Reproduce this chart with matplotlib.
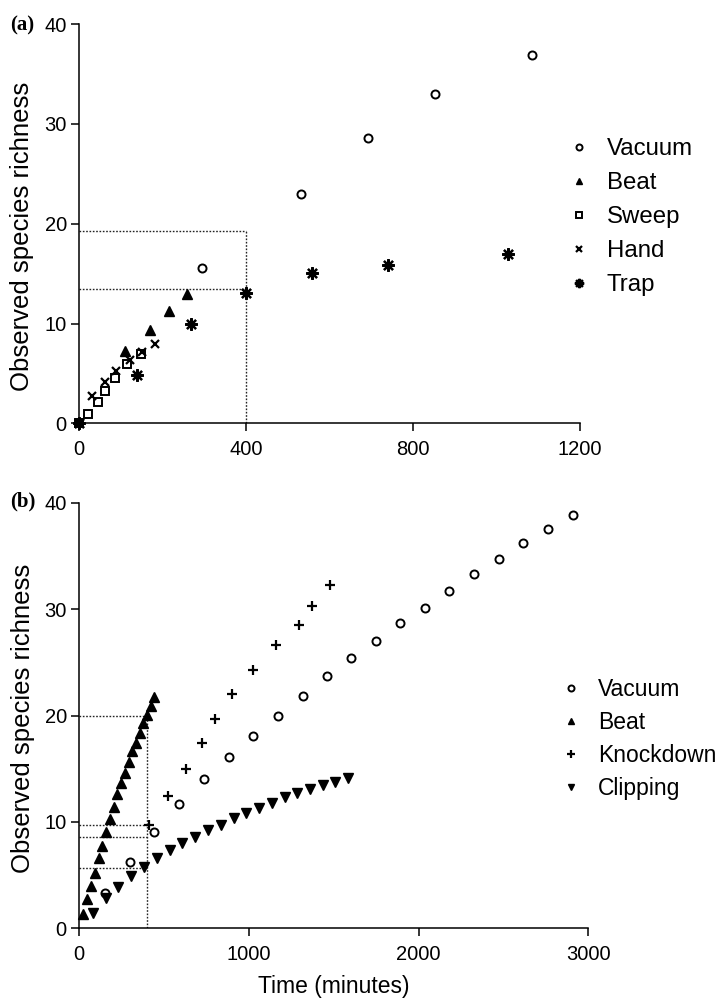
import matplotlib
matplotlib.use("Agg")
import matplotlib.pyplot as plt

plt.rcParams["font.family"] = ["Liberation Sans", "DejaVu Sans"]

# ---- panel (a) data: time (minutes) vs observed species richness ----
vac_a_x = [294, 532, 693, 852, 1085]
vac_a_y = [15.6, 23.0, 28.6, 33.0, 36.9]
beat_a_x = [109, 169, 215, 258]
beat_a_y = [7.25, 9.35, 11.25, 13.0]
sweep_a_x = [0, 22, 45, 61, 85, 115, 147]
sweep_a_y = [0, 0.93, 2.17, 3.24, 4.57, 5.94, 6.94]
hand_a_x = [0, 30, 61, 89, 121, 151, 181]
hand_a_y = [0, 2.74, 4.17, 5.27, 6.34, 7.18, 7.95]
trap_a_x = [0, 139, 268, 399, 557, 741, 1027]
trap_a_y = [0, 4.85, 9.95, 13.1, 15.1, 15.9, 17.0]
guides_a_y = [19.27, 13.46]

# ---- panel (b) data ----
vac_b_x = [151, 296, 441, 588, 735, 880, 1025, 1171, 1316, 1459,
           1602, 1747, 1890, 2035, 2180, 2325, 2475, 2618, 2765, 2912]
vac_b_y = [3.29, 6.27, 9.09, 11.69, 14.01, 16.14, 18.03, 20.0, 21.85, 23.73,
           25.36, 27.02, 28.68, 30.13, 31.66, 33.26, 34.73, 36.21, 37.55, 38.87]
beat_b_x = [23, 47, 69, 90, 114, 135, 157, 178, 202, 224,
            245, 267, 290, 312, 333, 355, 376, 398, 422, 443]
beat_b_y = [1.32, 2.76, 4.01, 5.24, 6.65, 7.77, 9.09, 10.25, 11.41, 12.66,
            13.70, 14.61, 15.61, 16.68, 17.46, 18.31, 19.34, 20.03, 20.88, 21.72]
knock_b_x = [410, 524, 627, 724, 802, 900, 1022, 1159, 1294, 1373, 1480]
knock_b_y = [9.72, 12.48, 15.02, 17.43, 19.66, 22.04, 24.29, 26.58, 28.46, 30.31, 32.29]
clip_b_x = [78, 157, 229, 304, 380, 455, 533, 606, 684, 759, 833,
            910, 984, 1061, 1137, 1210, 1284, 1361, 1435, 1510, 1582]
clip_b_y = [1.47, 2.82, 3.92, 4.92, 5.80, 6.58, 7.37, 7.99, 8.56, 9.25, 9.72,
            10.34, 10.88, 11.35, 11.82, 12.32, 12.76, 13.07, 13.45, 13.76, 14.17]
guides_b_y = [20.0, 9.75, 8.55, 5.7]
guide_x = 400

TICK_FS = 14.5
LABEL_FS = 16.5
YLABEL_FS = 18.5


def style_axis(ax, xmax, xticks):
    ax.set_xlim(0, xmax)
    ax.set_ylim(0, 40)
    ax.set_xticks(xticks)
    ax.set_yticks([0, 10, 20, 30, 40])
    for side in ["top", "right"]:
        ax.spines[side].set_visible(False)
    for side in ["left", "bottom"]:
        ax.spines[side].set_linewidth(1.1)
    ax.tick_params(axis="both", direction="out", length=6, width=1.1,
                   labelsize=TICK_FS)
    ax.tick_params(axis="x", pad=6)
    ax.tick_params(axis="y", pad=3)


def guides(ax, ys):
    top = max(ys)
    ax.plot([guide_x, guide_x], [0, top], ls=(0, (1.2, 1.2)), lw=1.0, color="#222222")
    for y in ys:
        ax.plot([0, guide_x], [y, y], ls=(0, (1.2, 1.2)), lw=1.0, color="#222222")


def pts(ax, x, y, label, **kw):
    base = dict(ls="none", color="black", clip_on=False, zorder=3)
    base.update(kw)
    ax.plot(x, y, label=label, **base)


fig = plt.figure(figsize=(7.19, 9.98), dpi=100)
ax_a = fig.add_axes([0.1103, 0.5758, 0.6964, 0.4001])
ax_b = fig.add_axes([0.1103, 0.0698, 0.7079, 0.4265])

# panel (a)
guides(ax_a, guides_a_y)
open_kw = dict(mfc="white", mec="black", mew=1.4)
pts(ax_a, vac_a_x, vac_a_y, "Vacuum", marker="o", ms=5.8, **open_kw)
pts(ax_a, beat_a_x, beat_a_y, "Beat", marker="^", ms=6.5)
pts(ax_a, sweep_a_x, sweep_a_y, "Sweep", marker="s", ms=5.8, **open_kw)
pts(ax_a, hand_a_x, hand_a_y, "Hand", marker="x", ms=6, mew=1.6)
pts(ax_a, trap_a_x, trap_a_y, "Trap", marker=(8, 2, 0), ms=9, mew=1.6)
style_axis(ax_a, 1200, [0, 400, 800, 1200])
ax_a.set_ylabel("Observed species richness", fontsize=YLABEL_FS)
ax_a.yaxis.set_label_coords(-0.09, 0.469)

# panel (b)
guides(ax_b, guides_b_y)
pts(ax_b, vac_b_x, vac_b_y, "Vacuum", marker="o", ms=5.8, **open_kw)
pts(ax_b, beat_b_x, beat_b_y, "Beat", marker="^", ms=6.5)
pts(ax_b, knock_b_x, knock_b_y, "Knockdown", marker="+", ms=7.5, mew=1.6)
pts(ax_b, clip_b_x, clip_b_y, "Clipping", marker="v", ms=6.5)
style_axis(ax_b, 3000, [0, 1000, 2000, 3000])
ax_b.set_ylabel("Observed species richness", fontsize=YLABEL_FS)
ax_b.yaxis.set_label_coords(-0.087, 0.494)
ax_b.set_xlabel("Time (minutes)", fontsize=LABEL_FS)
ax_b.xaxis.set_label_coords(0.5, -0.11)

leg_kw = dict(frameon=False, loc="upper left", handletextpad=0.7,
              borderpad=0, borderaxespad=0, markerscale=0.75,
              bbox_transform=fig.transFigure)
ax_a.legend(bbox_to_anchor=(568.5 / 719, 1 - 138 / 998), fontsize=17.3,
            handlelength=0.9, labelspacing=0.5, **leg_kw)
ax_b.legend(bbox_to_anchor=(560 / 719, 1 - 678 / 998), fontsize=16.5,
            handlelength=0.95, labelspacing=0.44, **leg_kw)

fig.text(10 / 719, 1 - 25 / 998, "(a)", family="Liberation Serif",
         fontweight="bold", fontsize=15, va="center", ha="left")
fig.text(10 / 719, 1 - 501 / 998, "(b)", family="Liberation Serif",
         fontweight="bold", fontsize=15, va="center", ha="left")

fig.savefig("out.png", dpi=100)
